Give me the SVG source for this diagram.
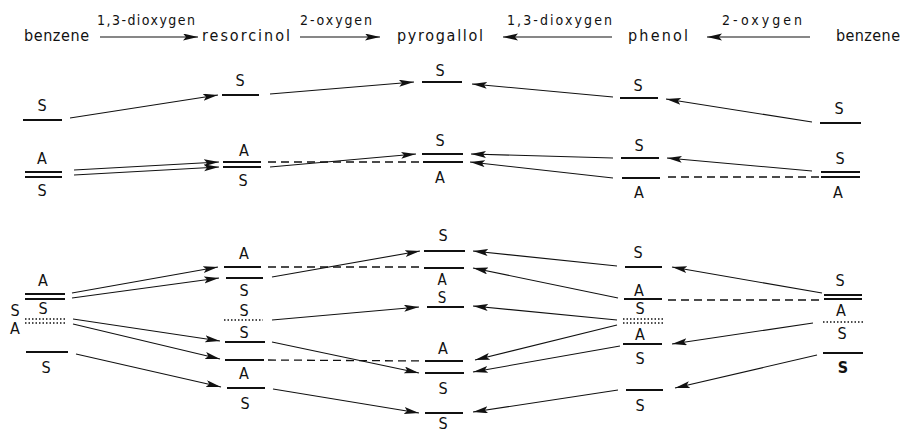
<svg xmlns="http://www.w3.org/2000/svg" width="905" height="432" viewBox="0 0 905 432">
<style>
text{font-family:"DejaVu Sans Condensed","DejaVu Sans",sans-serif;fill:#111}
.h{font-size:16px}
.l{font-size:14px}
.s{font-size:16px;text-anchor:middle}
.t{font-size:15px}
.lv{stroke:#111;stroke-width:1.9;fill:none}
.dot{stroke:#111;stroke-width:1.6;stroke-dasharray:1.5 2;fill:none}
.c{stroke:#111;stroke-width:1.1;fill:none;marker-end:url(#ah)}
.d{stroke:#111;stroke-width:1.3;stroke-dasharray:8 5;fill:none}
</style>
<defs>
<marker id="ah" markerUnits="userSpaceOnUse" markerWidth="17" markerHeight="8" refX="15" refY="3.5" orient="auto">
<path d="M0,0 L15,3.5 L0,7 L3,3.5 z" fill="#111"/>
</marker>
</defs>
<rect width="905" height="432" fill="#fff"/>
<g id="header">
<text class="h" x="24" y="41" textLength="65" lengthAdjust="spacing">benzene</text>
<text class="l" x="97" y="25" textLength="98" lengthAdjust="spacing">1,3-dioxygen</text>
<text class="h" x="202" y="41" textLength="88" lengthAdjust="spacing">resorcinol</text>
<text class="l" x="300" y="25" textLength="72" lengthAdjust="spacing">2-oxygen</text>
<text class="h" x="397" y="41" textLength="86" lengthAdjust="spacing">pyrogallol</text>
<text class="l" x="507" y="25" textLength="105" lengthAdjust="spacing">1,3-dioxygen</text>
<text class="h" x="628" y="41" textLength="60" lengthAdjust="spacing">phenol</text>
<text class="l" x="722" y="25" textLength="80" lengthAdjust="spacing">2-oxygen</text>
<text class="h" x="836" y="41" textLength="64" lengthAdjust="spacing">benzene</text>
</g>
<g id="col1">
<text class="s" x="42" y="111">S</text>
<line class="lv" x1="23" y1="120" x2="62" y2="120"/>
<text class="s" x="42" y="164">A</text>
<line class="lv" x1="25" y1="172" x2="62" y2="172"/>
<line class="lv" x1="25" y1="177" x2="62" y2="177"/>
<text class="s" x="42" y="196">S</text>
<text class="s" x="43" y="286">A</text>
<line class="lv" x1="25" y1="294" x2="65" y2="294"/>
<line class="lv" x1="25" y1="299" x2="65" y2="299"/>
<text class="s" x="43" y="314">S</text>
<text class="s" x="15" y="316">S</text>
<text class="s" x="15" y="334">A</text>
<line class="dot" x1="25" y1="319" x2="67" y2="319"/>
<line class="dot" x1="25" y1="323" x2="67" y2="323"/>
<line class="lv" x1="26" y1="352" x2="68" y2="352"/>
<text class="s" x="46" y="373">S</text>
</g>
<g id="col2">
<text class="s" x="240" y="86">S</text>
<line class="lv" x1="222" y1="95" x2="259" y2="95"/>
<text class="s" x="244" y="156">A</text>
<line class="lv" x1="223" y1="162" x2="261" y2="162"/>
<line class="lv" x1="223" y1="167" x2="261" y2="167"/>
<text class="s" x="243" y="186">S</text>
<text class="s" x="244" y="259">A</text>
<line class="lv" x1="224" y1="267" x2="261" y2="267"/>
<line class="lv" x1="226" y1="278" x2="263" y2="278"/>
<text class="s" x="244" y="296">S</text>
<text class="s" x="244" y="316">S</text>
<line class="dot" x1="224" y1="320" x2="263" y2="320"/>
<text class="s" x="244" y="338">S</text>
<line class="lv" x1="225" y1="342" x2="265" y2="342"/>
<line class="lv" x1="225" y1="360" x2="264" y2="360"/>
<text class="s" x="244" y="379">A</text>
<line class="lv" x1="227" y1="388" x2="265" y2="388"/>
<text class="s" x="245" y="409">S</text>
</g>
<g id="col3">
<text class="s" x="440" y="76">S</text>
<line class="lv" x1="422" y1="82" x2="462" y2="82"/>
<text class="s" x="440" y="146">S</text>
<line class="lv" x1="422" y1="154" x2="463" y2="154"/>
<line class="lv" x1="423" y1="162" x2="463" y2="162"/>
<text class="s" x="440" y="183">A</text>
<text class="s" x="443" y="241">S</text>
<line class="lv" x1="424" y1="251" x2="465" y2="251"/>
<line class="lv" x1="424" y1="268" x2="464" y2="268"/>
<text class="s t" x="442" y="285">A</text>
<text class="s t" x="442" y="303">S</text>
<line class="lv" x1="427" y1="307" x2="464" y2="307"/>
<text class="s" x="443" y="354">A</text>
<line class="lv" x1="425" y1="361" x2="463" y2="361"/>
<line class="lv" x1="425" y1="373" x2="464" y2="373"/>
<text class="s" x="443" y="394">S</text>
<line class="lv" x1="425" y1="413" x2="463" y2="413"/>
<text class="s" x="443" y="429">S</text>
</g>
<g id="col4">
<text class="s" x="638" y="91">S</text>
<line class="lv" x1="620" y1="98" x2="658" y2="98"/>
<text class="s" x="639" y="151">S</text>
<line class="lv" x1="621" y1="158" x2="659" y2="158"/>
<line class="lv" x1="622" y1="178" x2="660" y2="178"/>
<text class="s" x="639" y="198">A</text>
<text class="s" x="638" y="258">S</text>
<line class="lv" x1="625" y1="267" x2="662" y2="267"/>
<text class="s" x="639" y="296">A</text>
<line class="lv" x1="624" y1="299" x2="662" y2="299"/>
<text class="s" x="640" y="314">S</text>
<line class="dot" x1="623" y1="319" x2="665" y2="319"/>
<line class="dot" x1="623" y1="323" x2="665" y2="323"/>
<text class="s" x="640" y="340">A</text>
<line class="lv" x1="623" y1="344" x2="662" y2="344"/>
<text class="s" x="640" y="364">S</text>
<line class="lv" x1="626" y1="390" x2="663" y2="390"/>
<text class="s" x="640" y="411">S</text>
</g>
<g id="col5">
<text class="s" x="839" y="114">S</text>
<line class="lv" x1="820" y1="123" x2="861" y2="123"/>
<text class="s" x="840" y="164">S</text>
<line class="lv" x1="821" y1="172" x2="860" y2="172"/>
<line class="lv" x1="821" y1="177" x2="860" y2="177"/>
<text class="s" x="838" y="198">A</text>
<text class="s" x="840" y="286">S</text>
<line class="lv" x1="824" y1="295" x2="862" y2="295"/>
<line class="lv" x1="824" y1="299" x2="862" y2="299"/>
<text class="s" x="841" y="316">A</text>
<line class="dot" x1="823" y1="322" x2="863" y2="322"/>
<text class="s" x="842" y="339">S</text>
<line class="lv" x1="823" y1="353" x2="863" y2="353"/>
<text class="s" x="843" y="373" font-weight="bold">S</text>
</g>
<g id="connectors">
<line class="c" x1="100" y1="37" x2="198" y2="37"/>
<line class="c" x1="300" y1="37" x2="380" y2="37"/>
<line class="c" x1="612" y1="37" x2="503" y2="37"/>
<line class="c" x1="810" y1="37" x2="707" y2="37"/>
<line class="c" x1="70" y1="118" x2="218" y2="95"/>
<line class="c" x1="74" y1="170" x2="219" y2="162"/>
<line class="c" x1="74" y1="175" x2="219" y2="167"/>
<line class="c" x1="270" y1="94" x2="414" y2="82"/>
<line class="d" x1="268" y1="162" x2="420" y2="162"/>
<line class="c" x1="270" y1="167" x2="416" y2="154"/>
<line class="c" x1="613" y1="97" x2="472" y2="84"/>
<line class="c" x1="812" y1="122" x2="666" y2="99"/>
<line class="c" x1="613" y1="158" x2="471" y2="154"/>
<line class="c" x1="613" y1="178" x2="470" y2="162"/>
<line class="c" x1="812" y1="171" x2="667" y2="158"/>
<line class="d" x1="668" y1="177" x2="820" y2="177"/>
<line class="c" x1="72" y1="293" x2="218" y2="267"/>
<line class="c" x1="72" y1="298" x2="219" y2="278"/>
<line class="c" x1="73" y1="319" x2="220" y2="341"/>
<line class="c" x1="73" y1="324" x2="220" y2="359"/>
<line class="c" x1="76" y1="354" x2="221" y2="387"/>
<line class="d" x1="268" y1="267" x2="423" y2="267"/>
<line class="c" x1="272" y1="277" x2="420" y2="251"/>
<line class="c" x1="272" y1="320" x2="419" y2="307"/>
<line class="c" x1="272" y1="342" x2="419" y2="373"/>
<line class="d" x1="268" y1="360" x2="423" y2="361"/>
<line class="c" x1="273" y1="389" x2="419" y2="413"/>
<line class="c" x1="617" y1="266" x2="473" y2="251"/>
<line class="c" x1="618" y1="298" x2="473" y2="268"/>
<line class="c" x1="617" y1="320" x2="473" y2="306"/>
<line class="c" x1="617" y1="325" x2="475" y2="360"/>
<line class="c" x1="620" y1="346" x2="473" y2="372"/>
<line class="c" x1="618" y1="390" x2="473" y2="412"/>
<line class="c" x1="822" y1="293" x2="672" y2="267"/>
<line class="d" x1="668" y1="300" x2="822" y2="300"/>
<line class="c" x1="813" y1="323" x2="672" y2="344"/>
<line class="c" x1="817" y1="355" x2="675" y2="388"/>
</g>
</svg>
